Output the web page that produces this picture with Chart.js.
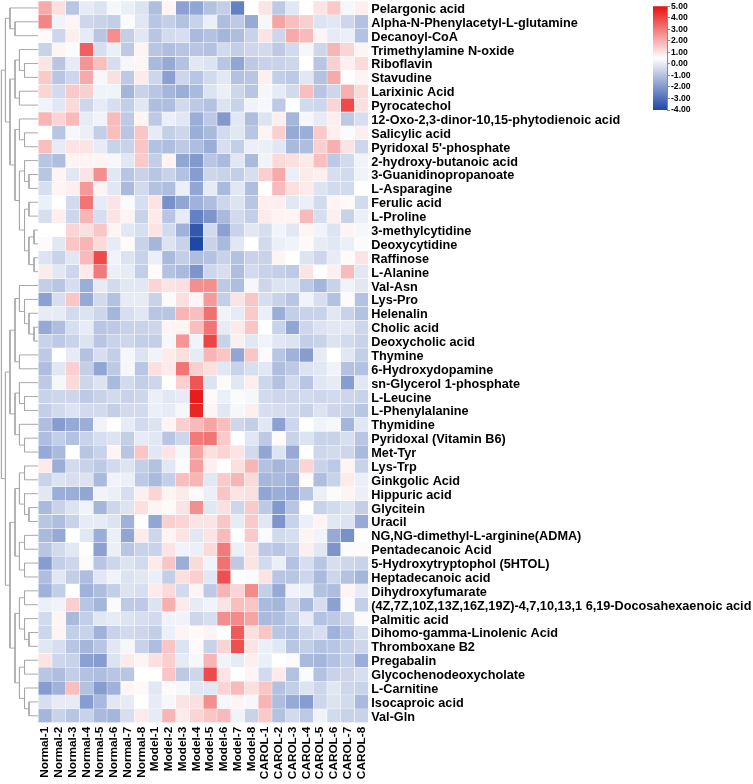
<!DOCTYPE html>
<html>
<head>
<meta charset="utf-8">
<style>
    html, body { margin: 0; padding: 0; background: #fff; }
    canvas { position: absolute; display: block; }
</style>
<script src="https://cdn.jsdelivr.net/npm/chart.js@4"></script>
</head>
<body>
<canvas id="heatChart" width="753" height="784" style="left:0;top:0"></canvas>
<canvas id="scaleChart" width="100" height="120" style="left:653px;top:0"></canvas>
<script>
const sampleNames = ["Normal-1", "Normal-2", "Normal-3", "Normal-4", "Normal-5", "Normal-6", "Normal-7", "Normal-8",
    "Model-1", "Model-2", "Model-3", "Model-4", "Model-5", "Model-6", "Model-7", "Model-8",
    "CAROL-1", "CAROL-2", "CAROL-3", "CAROL-4", "CAROL-5", "CAROL-6", "CAROL-7", "CAROL-8"];

const metaboliteNames = ["Pelargonic acid", "Alpha-N-Phenylacetyl-L-glutamine", "Decanoyl-CoA", "Trimethylamine N-oxide",
    "Riboflavin", "Stavudine", "Larixinic Acid", "Pyrocatechol", "12-Oxo-2,3-dinor-10,15-phytodienoic acid",
    "Salicylic acid", "Pyridoxal 5'-phosphate", "2-hydroxy-butanoic acid", "3-Guanidinopropanoate", "L-Asparagine",
    "Ferulic acid", "L-Proline", "3-methylcytidine", "Deoxycytidine", "Raffinose", "L-Alanine", "Val-Asn", "Lys-Pro",
    "Helenalin", "Cholic acid", "Deoxycholic acid", "Thymine", "6-Hydroxydopamine", "sn-Glycerol 1-phosphate",
    "L-Leucine", "L-Phenylalanine", "Thymidine", "Pyridoxal (Vitamin B6)", "Met-Tyr", "Lys-Trp", "Ginkgolic Acid",
    "Hippuric acid", "Glycitein", "Uracil", "NG,NG-dimethyl-L-arginine(ADMA)", "Pentadecanoic Acid",
    "5-Hydroxytryptophol (5HTOL)", "Heptadecanoic acid", "Dihydroxyfumarate",
    "(4Z,7Z,10Z,13Z,16Z,19Z)-4,7,10,13,1 6,19-Docosahexaenoic acid", "Palmitic acid", "Dihomo-gamma-Linolenic Acid",
    "Thromboxane B2", "Pregabalin", "Glycochenodeoxycholate", "L-Carnitine", "Isocaproic acid", "Val-Gln"];

// one row per metabolite, one value per sample
const heatValues = [
    [2.1, 1.1, -0.9, 0.0, -0.2, 0.3, 0.1, -0.2, -1.1, 0.7, -1.8, -1.7, -1.0, -0.7, -2.6, 0.5, 1.0, -0.8, -0.1, 0.5, 1.0, 1.5, 0.3, 0.8],
    [2.8, 0.2, 0.7, -0.5, -0.6, -0.7, 0.4, -0.1, -0.9, -0.7, -1.0, -0.6, 0.1, -1.1, -0.8, -1.6, 0.3, 2.2, 1.7, 1.4, -0.2, -0.1, -0.5, -1.0],
    [0.6, -0.5, 0.8, 0.0, -0.9, 2.6, -0.7, -0.1, -0.9, -0.4, -0.3, -1.2, -1.0, -1.3, -1.1, -0.6, 1.0, -0.5, 2.1, 1.8, 0.7, 0.0, 0.1, -1.0],
    [-0.6, 0.7, 0.4, 3.5, -0.3, 0.1, -0.8, 0.7, -0.9, -1.1, -0.9, -0.9, -1.0, -0.4, -0.7, -0.5, -0.4, -0.8, -0.4, 0.3, -0.5, 1.9, 1.3, 0.7],
    [1.0, -0.9, 0.0, 2.5, 1.7, -0.3, 0.3, 0.7, -1.2, -1.6, -1.0, -0.1, -0.2, -0.9, -1.7, -0.8, -0.6, -0.6, -0.5, 0.5, -0.9, 1.4, 0.8, 1.2],
    [1.5, -0.9, -0.5, 2.1, 0.3, 1.1, -0.8, 0.9, -0.5, -1.8, -0.5, -0.9, -0.4, -0.1, -1.0, -0.9, 0.8, -0.7, -0.8, -0.1, -1.0, 2.1, 0.5, 0.7],
    [1.3, -0.4, 1.5, 1.4, 0.2, 0.2, -1.3, -0.6, -0.9, -1.3, -1.5, -1.2, -0.2, 0.1, -0.5, -0.9, 0.3, 0.0, -0.4, 1.7, -0.9, -0.5, 2.0, 1.2],
    [0.2, -0.1, 1.2, -0.5, 0.0, -0.3, -0.7, -0.1, -1.1, -1.1, -0.4, -0.8, -1.0, -0.2, -0.6, 0.2, 0.3, -0.8, 0.5, -0.4, -0.5, 1.3, 3.9, 1.1],
    [1.9, 1.3, 1.8, 0.0, 0.2, 1.8, -0.8, 0.7, -0.8, 0.1, -0.1, -1.5, -0.8, -2.0, -0.1, -1.1, -0.2, 0.8, -1.3, 0.3, 0.0, 0.8, -0.8, -0.3],
    [0.5, -0.9, 0.3, 0.1, -0.7, 1.7, -0.9, 1.6, 0.0, -0.7, -0.5, -1.5, -1.2, -0.4, -0.1, -0.9, 0.7, 1.4, -1.6, -1.5, 1.5, 0.8, 0.4, 0.8],
    [1.7, 0.0, 1.0, 1.0, 0.0, -0.6, -0.6, 1.6, -1.0, -1.1, -0.8, -1.1, -1.5, -0.3, -0.7, 0.1, 0.1, -0.1, -1.2, -1.1, 1.4, 2.0, 1.0, -0.5],
    [-0.9, -1.1, 0.7, 0.7, 0.7, 0.3, -0.1, 1.5, -0.7, 0.7, -1.7, -2.0, -0.9, -1.2, -0.1, -1.2, 0.2, 1.2, 1.1, 0.9, 1.7, -0.8, -0.4, 0.2],
    [-0.9, 0.7, -0.1, 1.0, 2.6, -0.1, -0.9, -0.6, -0.9, -0.6, -1.0, -1.9, -0.5, -0.6, -0.7, -0.3, 1.4, 2.1, 0.1, 0.9, 0.8, -0.3, -0.4, 0.2],
    [-0.3, 0.7, 0.8, 2.4, 0.7, -0.1, -1.2, -0.4, -1.0, -1.1, 0.1, -1.7, 0.0, -1.2, -0.1, -1.1, 0.5, 1.8, 1.1, 0.9, -0.2, -0.4, -0.4, 0.5],
    [0.1, 0.5, -0.4, 3.1, 0.0, 1.0, 0.4, -0.3, 1.0, -2.2, -1.7, -1.4, -1.1, -0.5, -0.2, -0.9, 0.8, 0.8, -0.1, 0.1, -0.4, 0.7, 0.6, -0.4],
    [-0.3, 0.8, -0.5, 1.9, -0.3, 1.0, 0.7, -0.6, 0.9, -0.9, 0.0, -2.6, -2.1, -1.2, -0.4, -0.7, 0.9, 0.7, 0.7, 1.8, -0.3, 0.8, -0.6, 0.1],
    [0.5, 0.5, 1.3, 1.1, 1.6, 0.7, -0.1, -0.3, 1.0, -0.4, -1.4, -3.6, -0.4, -1.8, -0.6, -0.1, -0.3, 0.2, -0.1, 0.7, 0.2, -0.2, 0.7, 0.3],
    [0.6, -0.1, 1.6, 1.9, 1.2, 0.0, 0.6, -0.6, -1.3, -0.2, -0.6, -4.0, -0.6, -1.2, -0.1, 0.5, -0.4, 0.1, 0.2, 0.6, 0.0, -0.1, 0.1, 0.4],
    [-0.2, -0.6, -0.1, 1.8, 3.9, 0.2, -0.2, -0.6, 0.1, -1.2, -0.7, -1.1, -1.0, -0.6, -1.0, -0.6, -0.6, 0.7, 0.5, -0.2, -0.5, 0.0, 0.6, 1.0],
    [0.9, -0.1, -0.5, 0.9, 3.0, 0.1, 0.0, -0.7, 0.6, -1.0, -1.2, -2.1, -0.5, -0.3, -1.1, -0.4, -0.6, -0.7, -0.8, 1.0, 0.5, 0.8, 1.8, -0.1],
    [-0.7, -0.9, -0.3, -1.5, 0.0, -0.4, -0.1, -0.1, 1.3, 1.0, 1.1, 2.6, 2.6, -0.8, -1.1, 0.3, -0.5, -0.2, -0.2, -0.8, -1.3, -0.6, 0.2, -0.1],
    [-1.8, -0.3, 1.6, -1.6, -0.4, -1.0, 0.0, 0.0, -0.6, 0.4, 1.1, 0.7, 2.4, -0.7, 1.0, 1.6, -0.3, -0.6, -0.9, 0.2, -0.3, -1.0, 0.6, -1.0],
    [0.0, 0.0, -0.4, -0.2, -0.5, -1.3, -0.3, -0.1, -0.9, -0.9, 1.9, 1.7, 3.2, 0.2, 0.0, 1.5, 0.1, -1.5, -0.7, -0.6, -0.6, -0.1, -0.6, -1.0],
    [-1.6, -1.1, -0.3, 0.0, -0.9, -0.8, -0.6, -0.6, -0.5, 0.7, 0.7, 1.7, 3.1, 0.0, 0.9, 1.6, 0.5, -0.6, -1.7, -0.5, -0.2, -0.1, -0.1, -0.5],
    [-0.6, -0.8, -0.6, -0.2, -0.9, -0.6, -0.5, -0.7, -0.7, 0.3, 2.5, 0.2, 4.0, -0.6, 0.8, -0.1, 0.2, -0.1, -0.2, -0.7, -0.6, -0.2, -0.4, -0.6],
    [-0.8, 0.5, 0.0, -1.0, -0.3, -0.7, 0.3, -0.2, 0.2, 0.9, 1.1, 0.0, 1.9, 1.6, -1.7, 1.6, 0.6, -0.9, -1.4, -1.9, 0.0, 0.5, -0.1, -0.7],
    [-1.1, -0.1, 1.4, -0.7, -1.7, -0.8, 0.3, -0.9, 1.1, 0.9, 3.1, 1.4, 1.1, -0.1, -0.6, -0.3, -0.1, -1.1, -0.8, -0.2, -0.1, 0.2, -1.0, -1.0],
    [-0.8, 0.3, 1.2, -0.5, -0.2, -1.2, -0.4, -0.7, -0.5, 0.5, 1.4, 3.7, -0.2, 0.6, -0.1, 0.8, -0.5, -1.0, -0.4, -0.9, -0.1, 0.0, -1.9, -0.1],
    [-0.6, -0.5, -0.5, -0.8, -0.6, -0.4, -0.6, -0.5, 0.1, -0.1, 0.0, 4.8, 0.6, 0.1, 0.4, 0.3, -0.4, -0.5, -0.5, -0.4, -0.5, -0.4, -0.5, -0.6],
    [-0.7, -0.4, -0.2, -0.4, -0.4, -0.7, -0.4, -0.4, 0.1, 0.0, 0.3, 4.6, 0.7, -0.1, 0.3, 0.8, -0.3, -0.3, -0.4, -0.6, -0.2, -0.5, -0.6, -0.9],
    [-1.1, -1.9, -1.6, -1.5, 0.2, 0.5, 0.0, -0.4, -0.2, 0.7, 1.4, 1.8, 2.2, 1.7, -0.5, -0.7, -0.1, -1.8, -0.5, 0.5, 0.2, 0.3, -1.3, -0.1],
    [-1.1, -0.7, -1.0, -0.6, -0.3, -0.2, -0.7, 0.0, -0.1, -0.9, -0.5, 3.0, 3.1, 1.5, 0.5, -0.1, -0.8, 0.6, -0.6, -0.2, -0.6, -0.6, -0.3, -0.9],
    [-1.6, -1.2, 0.5, -0.9, -0.6, 0.7, -0.9, 1.6, -0.1, 1.0, 0.3, 2.2, 1.1, 1.3, 1.0, -0.4, -1.7, -0.2, -1.6, 0.5, -0.5, -0.4, -0.5, -1.2],
    [0.9, -1.5, -0.4, -0.6, -0.8, -0.4, -0.2, -0.7, -1.0, -0.1, 0.4, 2.3, 0.8, 0.5, 1.1, 1.9, -1.0, -1.3, -1.0, 1.3, -0.6, -0.8, 0.7, -0.6],
    [-0.6, -0.2, -0.3, -0.2, -1.2, 0.2, 0.1, -0.8, -1.2, -0.7, 1.7, 1.9, -0.1, 1.5, 1.9, 1.2, -1.3, -1.2, -1.4, 0.6, -1.1, -0.6, 0.9, 0.1],
    [-0.1, -1.5, -1.5, -1.7, 0.2, 0.1, -0.3, 0.8, 1.3, 0.7, 0.9, 0.6, 0.1, 1.6, 1.0, 1.1, -1.7, -1.5, -1.6, -0.9, 0.1, 0.4, 0.7, 0.1],
    [-1.2, -0.6, -0.2, 0.2, -1.3, -0.5, -0.2, 1.1, 0.7, 0.6, 1.0, 2.6, -0.1, 1.1, -0.5, 1.5, -0.8, -2.0, -0.9, 0.5, -0.6, -0.4, -0.2, -0.7],
    [-0.9, -1.1, -0.6, 0.0, 0.0, -0.2, -1.4, 0.5, -1.7, 1.4, 1.3, 1.0, 1.0, 1.6, 0.0, 1.5, -0.1, -2.1, -0.6, 0.1, 0.7, -0.1, -0.2, -1.6],
    [-1.2, -1.6, 0.5, -0.1, -1.5, 0.1, -1.7, 0.9, -0.5, 0.7, 1.0, -0.1, 1.0, 1.8, 0.5, 1.5, 0.4, -0.4, -0.3, 0.7, 0.2, -1.6, -2.2, 0.5],
    [-0.9, -0.4, -0.1, 0.5, -1.8, 0.1, -0.9, -0.6, -0.6, 1.0, 0.2, 0.1, 1.2, 3.0, 0.1, 1.0, -0.8, -0.9, -0.6, 0.8, -0.1, -2.1, 0.4, 0.6],
    [-1.9, -0.7, -0.5, 0.4, -0.9, -0.5, -0.2, -0.4, 0.9, 1.6, -1.5, 1.2, 0.2, 3.2, -0.8, 1.0, -0.4, 0.1, -1.0, -0.3, -0.9, -0.3, -0.5, -0.6],
    [-1.1, -0.1, -0.7, -1.1, -0.1, 0.2, -0.2, -0.1, 0.1, -0.7, 1.1, 1.4, -0.1, 3.8, 0.5, 0.4, 1.0, -0.9, -0.9, -0.5, -1.2, -0.5, -1.0, -1.3],
    [-1.4, -0.7, 0.5, -1.4, -1.1, -0.7, -0.2, -0.3, 0.9, 1.2, -0.4, 0.7, -0.8, 1.9, 1.3, 2.7, -0.7, -1.6, 0.2, 0.1, -1.0, -1.1, 0.7, 0.0],
    [0.1, 0.2, 1.4, -0.9, -1.3, 0.4, -0.8, -0.8, -0.2, 2.0, 0.9, 0.0, 0.2, 1.0, 1.7, 1.6, -1.2, -1.3, -0.5, -1.2, -0.3, -1.8, 0.4, -0.7],
    [-0.4, 0.7, -1.2, -0.7, -0.1, 0.0, -0.2, -0.3, -0.4, 0.2, 0.2, -0.5, -0.3, 2.6, 2.7, 2.2, -1.2, -1.1, -0.7, 0.0, -1.0, -0.8, -0.5, 0.4],
    [-0.5, 0.7, -0.7, -0.6, -1.4, -0.6, -0.4, -0.5, -0.7, 0.1, 0.7, 0.6, 0.7, 0.5, 3.6, 1.1, 1.6, -0.9, -1.0, -0.5, -0.3, -1.4, -0.9, -0.3],
    [-0.1, -0.3, -0.9, -1.3, -0.9, -0.1, 0.3, -0.6, -1.1, 1.6, -0.2, 0.6, -0.6, 1.3, 3.8, 1.0, 0.1, -0.1, -0.9, -0.7, -1.0, -0.9, -0.7, -0.5],
    [1.0, -0.5, -0.6, -1.8, -1.9, -0.2, 0.9, 0.7, 1.1, 1.4, 0.0, 0.3, 1.9, 0.2, 0.0, 0.8, 0.1, 0.5, 0.4, -1.2, -1.3, -1.0, -0.7, -1.5],
    [-0.9, -1.1, -0.7, -1.0, -1.1, -0.9, -0.9, 0.5, 0.5, 1.6, -0.8, -0.5, 3.9, 1.0, 0.5, 0.7, -0.4, 0.9, -1.0, 0.4, -1.0, -0.6, -0.5, -0.3],
    [-1.9, -1.4, 1.7, -1.0, -1.9, -1.4, 0.7, 0.6, -0.1, 0.6, 0.3, -0.1, -0.1, 1.3, 1.8, 1.1, 1.6, -1.0, -0.7, -0.2, -0.5, -0.1, -0.5, -0.6],
    [-0.3, 0.0, 0.0, -1.9, -1.2, -0.1, 0.0, 0.5, 0.0, 0.3, 1.0, 1.1, 2.6, 0.3, 0.7, 0.3, 1.9, -1.1, -1.6, -1.9, -0.5, -0.2, -0.4, -1.2],
    [-1.3, -0.6, -0.9, -0.6, -1.2, -1.3, -0.3, 0.9, 0.0, 1.9, 0.9, 1.3, 1.6, 1.8, 0.2, -0.6, 1.5, -1.0, -0.4, -0.8, 0.2, -0.4, -0.6, -0.6],
];

// row clustering: [merge distance, left, right], a number is a row index
const rowTree = [2.68,
    [2.39,
        [2.06, 0, [1.69, 1, 2]],
        [2.06,
            [1.69, [1.37, 3, [1.0, 4, 5]], [1.37, 6, 7]],
            [1.69,
                [1.37, 8, [1.0, 9, 10]],
                [1.37,
                    [1.0, 11, [0.68, 12, 13]],
                    [1.0, [0.68, 14, 15], [0.68, [0.31, 16, 17], [0.31, 18, 19]]]]]]],
    [2.39,
        [2.06,
            [1.69,
                [1.37, 20, [1.0, 21, [0.68, 22, [0.31, 23, 24]]]],
                [1.37, 25, 26]],
            [1.69,
                [1.37, 27, [1.0, 28, 29]],
                [1.37, 30, [1.0, 31, 32]]]],
        [2.06,
            [1.69,
                [1.37, [1.0, 33, 34], [1.0, 35, [0.68, 36, 37]]],
                [1.37, [1.0, 38, 39], [1.0, 40, 41]]],
            [1.69,
                [1.37, [1.0, 42, 43], [1.0, 44, [0.68, 45, 46]]],
                [1.37, [1.0, 47, 48], [1.0, 49, [0.68, 50, 51]]]]]]];

const scaleRange = [-4, 5];
const scaleTicks = [5, 4, 3, 2, 1, 0, -1, -2, -3, -4];
const scaleMid = 0.5;
const scaleLow = [30, 72, 165];
const scaleHigh = [232, 16, 16];

Chart.defaults.font.family = "'Liberation Sans', Arial, sans-serif";
Chart.defaults.color = "#000";
Chart.defaults.animation = false;

// value -> colour, same ramp as the colour bar
function valueColor(v) {
    const end = v < scaleMid ? scaleLow : scaleHigh;
    const lim = v < scaleMid ? scaleRange[0] : scaleRange[1];
    const t = Math.min(1, (v - scaleMid) / (lim - scaleMid));
    const c = end.map(e => Math.round(255 + (e - 255) * t));
    return `rgb(${c[0]}, ${c[1]}, ${c[2]})`;
}

// walk the tree, collect the bracket lines
const treePoints = [];
function walkTree(node) {
    if (typeof node === "number") return { y: node + 0.5, h: 0 };
    const a = walkTree(node[1]);
    const b = walkTree(node[2]);
    treePoints.push({ x: -a.h, y: a.y }, { x: -node[0], y: a.y }, { x: -node[0], y: b.y }, { x: -b.h, y: b.y }, { x: NaN, y: NaN });
    return { y: (a.y + b.y) / 2, h: node[0] };
}
walkTree(rowTree);

const rowDatasets = heatValues.map((row, i) => ({
    type: "bar",
    data: row.map((v, j) => ({ x: j + 0.5, y: [i, i + 1] })),
    backgroundColor: row.map(valueColor),
    borderColor: "#fff",
    borderWidth: 0.5,
    borderSkipped: false,
    grouped: false,
    barPercentage: 1,
    categoryPercentage: 1,
}));

const treeDataset = {
    type: "scatter",
    data: treePoints,
    showLine: true,
    borderColor: "#a9a9a9",
    borderWidth: 1,
    pointRadius: 0,
    spanGaps: false,
};

new Chart(document.getElementById("heatChart"), {
    type: "bar",
    data: { datasets: [...rowDatasets, treeDataset] },
    options: {
        responsive: false,
        layout: { autoPadding: false, padding: { top: 1, left: 0, right: 0, bottom: 0 } },
        plugins: { legend: { display: false }, tooltip: { enabled: false } },
        scales: {
            x: {
                type: "linear",
                offset: false,
                min: -2.785,
                max: sampleNames.length,
                grid: { display: false, drawTicks: false },
                border: { display: false },
                afterBuildTicks: s => { s.ticks = sampleNames.map((_, j) => ({ value: j + 0.5 })); },
                afterFit: s => { s.height = 61.3; s.paddingLeft = 0; s.paddingRight = 0; },
                ticks: {
                    autoSkip: false,
                    minRotation: 90,
                    maxRotation: 90,
                    padding: 4,
                    font: { size: 11.8, weight: "bold" },
                    callback: (v, i) => sampleNames[i],
                },
            },
            y: {
                type: "linear",
                position: "right",
                reverse: true,
                min: 0,
                max: metaboliteNames.length,
                grid: { display: false, drawTicks: false },
                border: { display: false },
                afterBuildTicks: s => { s.ticks = metaboliteNames.map((_, i) => ({ value: i + 0.5 })); },
                afterFit: s => { s.width = 384.7; s.paddingTop = 0; s.paddingBottom = 0; },
                ticks: {
                    autoSkip: false,
                    padding: 3,
                    labelOffset: 1.5,
                    font: { size: 12.7, weight: "bold" },
                    callback: (v, i) => metaboliteNames[i],
                },
            },
        },
    },
});

new Chart(document.getElementById("scaleChart"), {
    type: "bar",
    data: {
        labels: ["scale"],
        datasets: [{
            data: [scaleRange],
            barPercentage: 1,
            categoryPercentage: 1,
            borderWidth: 0,
            backgroundColor: ctx => {
                const area = ctx.chart.chartArea;
                if (!area) return "#fff";
                const g = ctx.chart.ctx.createLinearGradient(0, area.bottom, 0, area.top);
                g.addColorStop(0, valueColor(scaleRange[0]));
                g.addColorStop((scaleMid - scaleRange[0]) / (scaleRange[1] - scaleRange[0]), "#fff");
                g.addColorStop(1, valueColor(scaleRange[1]));
                return g;
            },
        }],
    },
    options: {
        responsive: false,
        layout: { padding: { top: 5, bottom: 10, left: 0, right: 0 } },
        plugins: { legend: { display: false }, tooltip: { enabled: false } },
        scales: {
            x: { display: false },
            y: {
                position: "right",
                min: scaleRange[0],
                max: scaleRange[1],
                afterBuildTicks: s => { s.ticks = scaleTicks.map(v => ({ value: v })); },
                afterFit: s => { s.width = 86; },
                grid: { drawOnChartArea: false, tickLength: 3, tickColor: "#8a8a8a" },
                border: { color: "#8a8a8a" },
                ticks: {
                    autoSkip: false,
                    padding: 1,
                    font: { size: 8.6, weight: "bold" },
                    callback: v => v.toFixed(2),
                },
            },
        },
    },
});
</script>
</body>
</html>
